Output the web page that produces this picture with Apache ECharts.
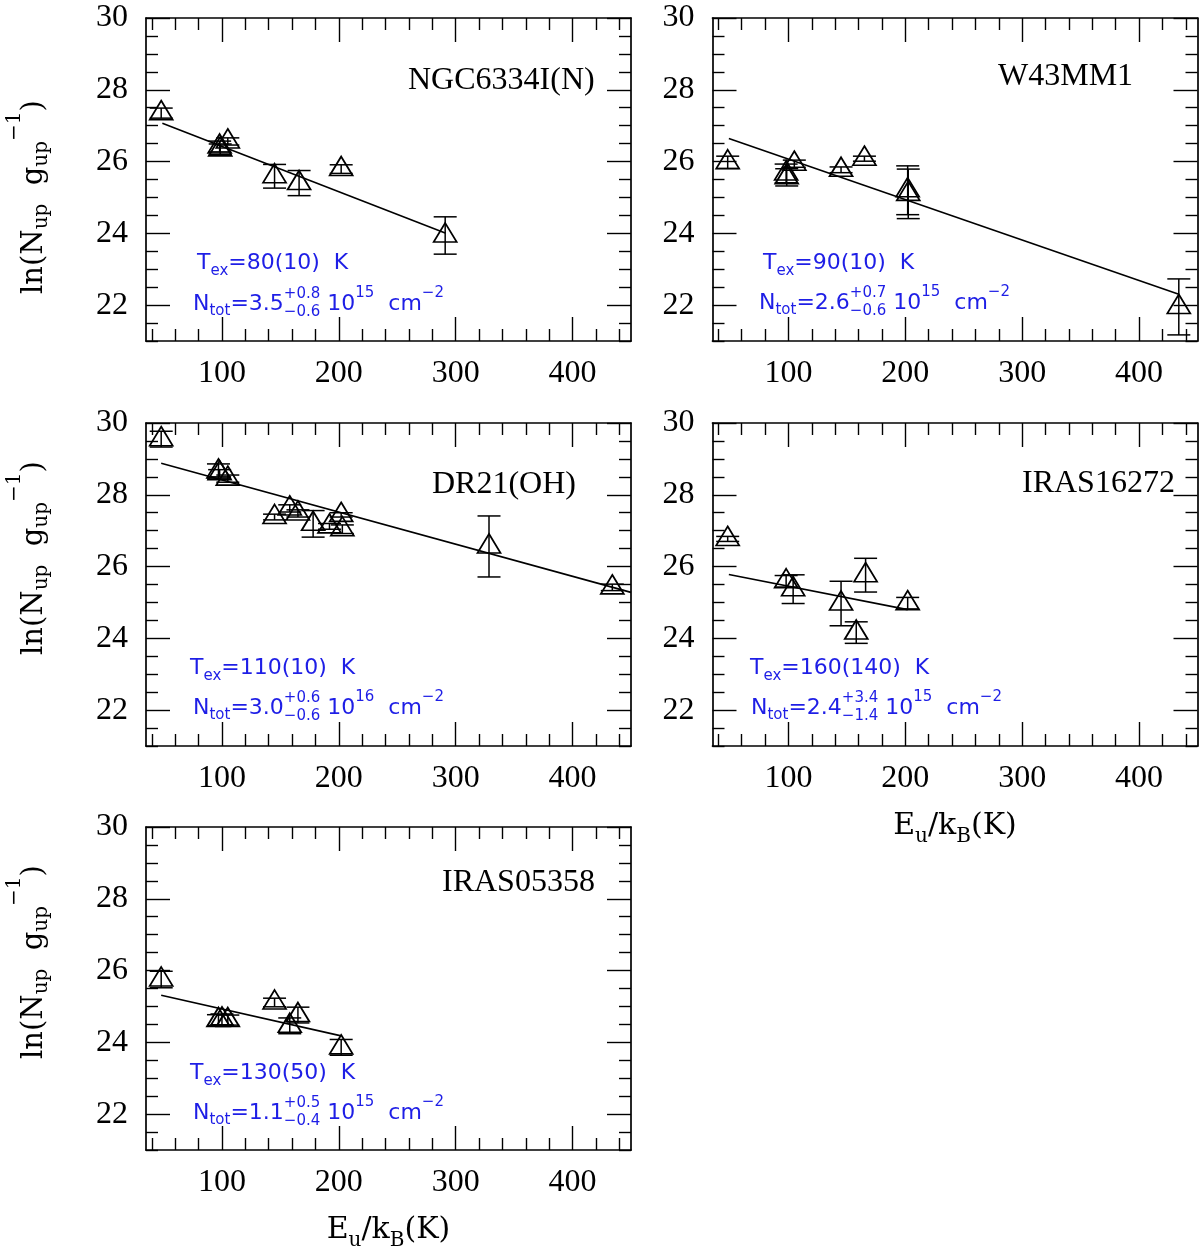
<!DOCTYPE html>
<html>
<head>
<meta charset="utf-8">
<script src="https://cdn.jsdelivr.net/npm/echarts@6/dist/echarts.min.js"></script>
<style>
html,body{margin:0;padding:0;background:#ffffff;}
#chart{width:1200px;height:1252px;}
</style>
</head>
<body>
<div id="chart"></div>
<script>
// ---------------- DATA ----------------
const panelNames = ['NGC6334I(N)', 'W43MM1', 'DR21(OH)', 'IRAS16272', 'IRAS05358'];

// NGC6334I(N)
const eu1  = [48, 98, 98.5, 105, 145, 166, 202, 291];
const ln1  = [27.35, 26.42, 26.34, 26.56, 25.59, 25.40, 25.79, 23.94];
const err1 = [0.14, 0.15, 0.15, 0.10, 0.33, 0.35, 0.12, 0.52];
const fitE1 = [49, 291];
const fitLn1 = [27.07, 24.01];

// W43MM1
const eu2  = [48, 98, 98.5, 105, 145, 165, 202, 202.5, 434];
const ln2  = [25.98, 25.67, 25.56, 25.94, 25.77, 26.08, 25.20, 25.10, 21.95];
const err2 = [0.17, 0.26, 0.24, 0.10, 0.08, 0.07, 0.68, 0.69, 0.78];
const fitE2 = [49, 434];
const fitLn2 = [26.64, 22.30];

// DR21(OH)
const eu3  = [48, 97, 98, 105, 145, 158, 165, 178, 192, 202, 203, 328.5, 434];
const ln3  = [29.55, 28.65, 28.60, 28.45, 27.38, 27.62, 27.48, 27.19, 27.12, 27.44, 27.04, 26.56, 25.42];
const err3 = [0.22, 0.21, 0.10, 0.10, 0.08, 0.10, 0.10, 0.37, 0.08, 0.06, 0.12, 0.85, 0.09];
const fitE3 = [48, 450];
const fitLn3 = [28.88, 25.28];

// IRAS16272
const eu4  = [48, 98, 104, 145, 158, 166, 202];
const ln4  = [26.77, 25.59, 25.37, 24.97, 24.16, 25.76, 24.98];
const err4 = [0.07, 0.16, 0.40, 0.62, 0.30, 0.47, 0.16];
const fitE4 = [49, 202];
const fitLn4 = [25.78, 24.80];

// IRAS05358
const eu5  = [48, 97, 100, 105, 145, 158, 165, 202];
const ln5  = [25.75, 24.62, 24.64, 24.62, 25.11, 24.46, 24.76, 23.86];
const err5 = [0.23, 0.15, 0.15, 0.14, 0.12, 0.22, 0.22, 0.22];
const fitE5 = [48, 202];
const fitLn5 = [25.31, 24.18];

// annotation texts
const texValues  = ['80(10)', '90(10)', '110(10)', '160(140)', '130(50)'];
const ntotBase   = ['3.5', '2.6', '3.0', '2.4', '1.1'];
const ntotPlus   = ['+0.8', '+0.7', '+0.6', '+3.4', '+0.5'];
const ntotMinus  = ['\u22120.6', '\u22120.6', '\u22120.6', '\u22121.4', '\u22120.4'];
const ntotExp    = ['15', '15', '16', '15', '15'];

// ticks
const xMajorTicks = [100, 200, 300, 400];
const xMinorTicks = [40, 60, 80, 120, 140, 160, 180, 220, 240, 260, 280, 320, 340, 360, 380, 420, 440];
const yMajorTicks = [22, 24, 26, 28, 30];
const yMinorTicks = [21, 21.5, 22.5, 23, 23.5, 24.5, 25, 25.5, 26.5, 27, 27.5, 28.5, 29, 29.5];
const xRange = [35, 450];
const yRange = [21, 30];

// ---------------- LAYOUT ----------------
const panels = [
  {eu: eu1, ln: ln1, err: err1, fe: fitE1, fl: fitLn1},
  {eu: eu2, ln: ln2, err: err2, fe: fitE2, fl: fitLn2},
  {eu: eu3, ln: ln3, err: err3, fe: fitE3, fl: fitLn3},
  {eu: eu4, ln: ln4, err: err4, fe: fitE4, fl: fitLn4},
  {eu: eu5, ln: ln5, err: err5, fe: fitE5, fl: fitLn5}
];
const gridPos = [[146, 18], [712.5, 18], [146, 423], [712.5, 423], [146, 827]];
const GW = 485, GH = 323;
const namePos = [[408, 80.5], [998, 77], [432, 485], [1022, 484], [442, 883]];
const texPos  = [[197, 263], [763, 263], [190, 668], [750, 668], [190, 1073]];
const ntotPos = [[193, 304], [759, 303], [193, 708], [751, 708], [193, 1113]];
const yTitlePos = [[34, 294], [34, 655], [34, 1059]];
const xTitlePanels = [3, 4];

const SERIF = 'Liberation Serif';
const SERIF2 = 'DejaVu Serif';
const SANS = 'DejaVu Sans';
const BLUE = '#1e1ee6';
const BLACK = '#000000';

const ctx = document.createElement('canvas').getContext('2d');
function tw(text, size, family) {
  ctx.font = size + 'px "' + family + '"';
  return ctx.measureText(text).width;
}
function txt(text, x, y, size, family, color) {
  return {
    type: 'text', x: x, y: y, silent: true,
    style: {text: text, fontSize: size, fontFamily: family, fill: color,
            align: 'left', verticalAlign: 'middle'}
  };
}
function mathText(pieces, x0, y0, family, color, rotation, center) {
  let cx = 0;
  const children = [];
  pieces.forEach(p => {
    if (p.stack) {
      const w = Math.max(tw(p.stack[0], p.s, family), tw(p.stack[1], p.s, family));
      children.push(txt(p.stack[0], cx, p.up, p.s, family, color));
      children.push(txt(p.stack[1], cx, p.dn, p.s, family, color));
      cx += w;
    } else {
      children.push(txt(p.t, cx, p.dy || 0, p.s, family, color));
      cx += tw(p.t, p.s, family);
    }
  });
  let gx = x0;
  if (center) gx = x0 - cx / 2;
  return {type: 'group', x: gx, y: y0, rotation: rotation || 0, silent: true, children: children};
}

// ---------------- OPTION ----------------
const grids = [], xAxes = [], yAxes = [], series = [], graphics = [];
const lineSt = {color: BLACK, width: 1.7};
const tickSt = {color: BLACK, width: 1.4};

panels.forEach((p, i) => {
  grids.push({left: gridPos[i][0], top: gridPos[i][1], width: GW, height: GH, containLabel: false});
  const baseX = {gridIndex: i, type: 'value', min: xRange[0], max: xRange[1], splitLine: {show: false}};
  const baseY = {gridIndex: i, type: 'value', min: yRange[0], max: yRange[1], splitLine: {show: false}};
  xAxes.push(Object.assign({}, baseX, {
    position: 'bottom',
    axisLine: {show: true, onZero: false, lineStyle: lineSt},
    axisTick: {show: true, inside: true, length: 24, customValues: xMajorTicks, lineStyle: tickSt},
    axisLabel: {show: true, customValues: xMajorTicks, margin: 16.5, fontFamily: SERIF, fontSize: 32, lineHeight: 32, color: BLACK}
  }));
  xAxes.push(Object.assign({}, baseX, {
    position: 'bottom',
    axisLine: {show: false, onZero: false},
    axisTick: {show: true, inside: true, length: 12, customValues: xMinorTicks, lineStyle: tickSt},
    axisLabel: {show: false}
  }));
  xAxes.push(Object.assign({}, baseX, {
    position: 'top',
    axisLine: {show: true, onZero: false, lineStyle: lineSt},
    axisTick: {show: true, inside: true, length: 24, customValues: xMajorTicks, lineStyle: tickSt},
    axisLabel: {show: false}
  }));
  xAxes.push(Object.assign({}, baseX, {
    position: 'top',
    axisLine: {show: false, onZero: false},
    axisTick: {show: true, inside: true, length: 12, customValues: xMinorTicks, lineStyle: tickSt},
    axisLabel: {show: false}
  }));
  yAxes.push(Object.assign({}, baseY, {
    position: 'left',
    axisLine: {show: true, onZero: false, lineStyle: lineSt},
    axisTick: {show: true, inside: true, length: 24, customValues: yMajorTicks, lineStyle: tickSt},
    axisLabel: {show: true, customValues: yMajorTicks, margin: 18, fontFamily: SERIF, fontSize: 32, color: BLACK}
  }));
  yAxes.push(Object.assign({}, baseY, {
    position: 'left',
    axisLine: {show: false, onZero: false},
    axisTick: {show: true, inside: true, length: 12, customValues: yMinorTicks, lineStyle: tickSt},
    axisLabel: {show: false}
  }));
  yAxes.push(Object.assign({}, baseY, {
    position: 'right',
    axisLine: {show: true, onZero: false, lineStyle: lineSt},
    axisTick: {show: true, inside: true, length: 24, customValues: yMajorTicks, lineStyle: tickSt},
    axisLabel: {show: false}
  }));
  yAxes.push(Object.assign({}, baseY, {
    position: 'right',
    axisLine: {show: false, onZero: false},
    axisTick: {show: true, inside: true, length: 12, customValues: yMinorTicks, lineStyle: tickSt},
    axisLabel: {show: false}
  }));

  const xi = 4 * i, yi = 4 * i;
  const pts = p.eu.map((e, k) => [e, p.ln[k], p.err[k]]);

  series.push({
    type: 'custom', xAxisIndex: xi, yAxisIndex: yi, silent: true, z: 2,
    data: pts,
    encode: {x: 0, y: 1},
    renderItem: function (params, api) {
      const x = api.value(0), y = api.value(1), e = api.value(2);
      const t = api.coord([x, y + e]);
      const b = api.coord([x, y - e]);
      const hw = 11.5;
      const st = {stroke: BLACK, lineWidth: 1.5};
      return {
        type: 'group',
        children: [
          {type: 'line', shape: {x1: t[0], y1: t[1], x2: b[0], y2: b[1]}, style: st},
          {type: 'line', shape: {x1: t[0] - hw, y1: t[1], x2: t[0] + hw, y2: t[1]}, style: st},
          {type: 'line', shape: {x1: b[0] - hw, y1: b[1], x2: b[0] + hw, y2: b[1]}, style: st}
        ]
      };
    }
  });
  series.push({
    type: 'scatter', xAxisIndex: xi, yAxisIndex: yi, silent: true, z: 3,
    data: pts.map(q => [q[0], q[1]]),
    symbol: 'triangle', symbolSize: [23, 19], symbolOffset: [0, -3],
    itemStyle: {color: 'rgba(255,255,255,0)', borderColor: BLACK, borderWidth: 1.7, opacity: 1}
  });
  series.push({
    type: 'line', xAxisIndex: xi, yAxisIndex: yi, silent: true, z: 4,
    data: p.fe.map((e, k) => [e, p.fl[k]]),
    showSymbol: false, symbol: 'none',
    lineStyle: {color: BLACK, width: 1.6}
  });

  graphics.push(txt(panelNames[i], namePos[i][0], namePos[i][1], 32, SERIF, BLACK));
  graphics.push(mathText([
    {t: 'T', s: 22},
    {t: 'ex', s: 15, dy: 8},
    {t: '=' + texValues[i] + '  K', s: 22}
  ], texPos[i][0], texPos[i][1], SANS, BLUE));
  graphics.push(mathText([
    {t: 'N', s: 22},
    {t: 'tot', s: 15, dy: 7},
    {t: '=' + ntotBase[i], s: 22},
    {stack: [ntotPlus[i], ntotMinus[i]], s: 15, up: -10, dn: 8},
    {t: ' 10', s: 22},
    {t: ntotExp[i], s: 15, dy: -11},
    {t: '  cm', s: 22},
    {t: '\u22122', s: 15, dy: -11}
  ], ntotPos[i][0], ntotPos[i][1], SANS, BLUE));
});

yTitlePos.forEach(pos => {
  graphics.push(mathText([
    {t: 'ln(N', s: 29},
    {t: 'up', s: 20, dy: 8},
    {t: '  g', s: 29},
    {t: 'up', s: 20, dy: 8},
    {t: '\u22121', s: 20, dy: -19},
    {t: ')', s: 29}
  ], pos[0], pos[1], SERIF2, BLACK, Math.PI / 2));
});
xTitlePanels.forEach(i => {
  graphics.push(mathText([
    {t: 'E', s: 30},
    {t: 'u', s: 20, dy: 11},
    {t: '/k', s: 30},
    {t: 'B', s: 20, dy: 11},
    {t: '(K)', s: 30}
  ], gridPos[i][0] + GW / 2, gridPos[i][1] + GH + 80, SERIF2, BLACK, 0, true));
});

const chart = echarts.init(document.getElementById('chart'), null, {renderer: 'canvas'});
chart.setOption({
  animation: false,
  backgroundColor: '#ffffff',
  grid: grids,
  xAxis: xAxes,
  yAxis: yAxes,
  series: series,
  graphic: {elements: graphics}
});
</script>
</body>
</html>
